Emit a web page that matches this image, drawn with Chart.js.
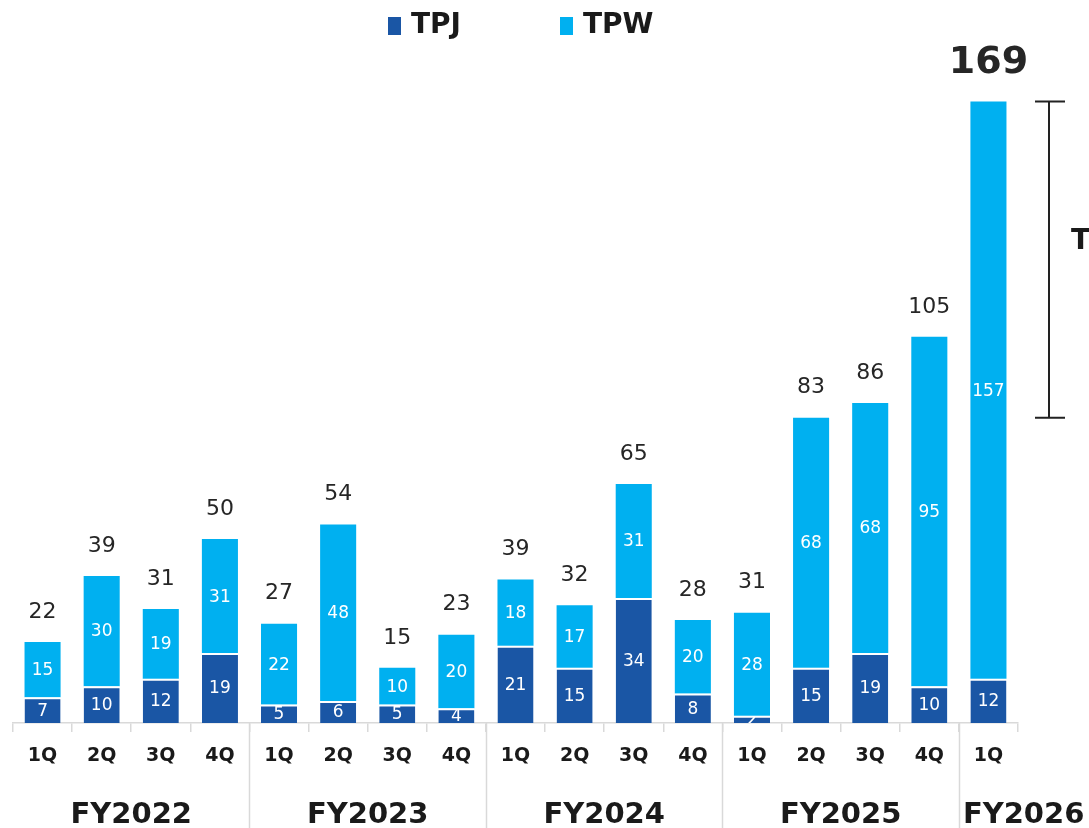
<!DOCTYPE html>
<html>
<head>
<meta charset="utf-8">
<script src="https://cdn.jsdelivr.net/npm/chart.js@4/dist/chart.umd.min.js"></script>
<style>
  html,body{margin:0;padding:0;background:#fff;}
  #wrap{width:1089px;height:828px;position:relative;}
</style>
</head>
<body>
<div id="wrap"><canvas id="c" width="1089" height="828"></canvas></div>
<script>
const quarters = ['1Q','2Q','3Q','4Q','1Q','2Q','3Q','4Q','1Q','2Q','3Q','4Q','1Q','2Q','3Q','4Q','1Q'];
const fiscalYears = ['FY2022','FY2023','FY2024','FY2025','FY2026'];
const fyGroupSizes = [4,4,4,4,1];
const tpj = [7,10,12,19, 5,6,5,4, 21,15,34,8, 2,15,19,10, 12];
const tpw = [15,30,19,31, 22,48,10,20, 18,17,31,20, 28,68,68,95, 157];
const totals = [22,39,31,50, 27,54,15,23, 39,32,65,28, 31,83,86,105, 169];
const bracketFrom = 83;
const bracketTo = 169;

const COL_TPJ = '#1a56a5';
const COL_TPW = '#00b0f0';
const FONT = "'DejaVu Sans', Verdana, sans-serif";

const overlay = {
  id: 'overlay',
  afterDatasetsDraw(chart) {
    const ctx = chart.ctx;
    // inside labels
    chart.data.datasets.forEach((ds, di) => {
      const meta = chart.getDatasetMeta(di);
      meta.data.forEach((el, i) => {
        const v = ds.data[i];
        const top = Math.min(el.y, el.base), bot = Math.max(el.y, el.base);
        const w = el.width;
        ctx.save();
        ctx.beginPath();
        ctx.rect(el.x - w/2, top + 1, w, bot - top - 1);
        ctx.clip();
        ctx.fillStyle = '#ffffff';
        ctx.font = '17px ' + FONT;
        ctx.textAlign = 'center';
        ctx.textBaseline = 'middle';
        ctx.fillText(String(v), el.x, (top + bot) / 2 + 1);
        ctx.restore();
      });
    });
    // totals
    const meta1 = chart.getDatasetMeta(1);
    meta1.data.forEach((el, i) => {
      ctx.save();
      ctx.fillStyle = '#262626';
      ctx.textAlign = 'center';
      ctx.textBaseline = 'middle';
      if (i === totals.length - 1) {
        ctx.font = 'bold 38px ' + FONT;
        ctx.fillText(String(totals[i]), el.x, el.y - 38);
      } else {
        ctx.font = '22px ' + FONT;
        ctx.fillText(String(totals[i]), el.x, el.y - 30);
      }
      ctx.restore();
    });
  },
  afterDraw(chart) {
    const ctx = chart.ctx;
    const x = chart.scales.x, y = chart.scales.y;
    const step = x.getPixelForValue(1) - x.getPixelForValue(0);
    const axisY = chart.chartArea.bottom;
    // group separators and labels
    let idx = 0;
    ctx.save();
    fiscalYears.forEach((fy, g) => {
      const n = fyGroupSizes[g];
      const left = x.getPixelForValue(idx) - step/2;
      const right = x.getPixelForValue(idx + n - 1) + step/2;
      if (g > 0) {
        ctx.strokeStyle = '#d9d9d9';
        ctx.lineWidth = 1.5;
        ctx.beginPath();
        ctx.moveTo(Math.round(left) + 0.5, axisY);
        ctx.lineTo(Math.round(left) + 0.5, 828);
        ctx.stroke();
      }
      ctx.fillStyle = '#1a1a1a';
      ctx.font = 'bold 29px ' + FONT;
      ctx.textBaseline = 'middle';
      const tw = ctx.measureText(fy).width;
      let cx = (left + right) / 2;
      if (cx - tw/2 < left + 4) cx = left + 4 + tw/2;
      ctx.textAlign = 'center';
      ctx.fillText(fy, cx, 815);
      idx += n;
    });
    ctx.restore();

    // legend
    ctx.save();
    const items = [['TPJ', COL_TPJ, 388], ['TPW', COL_TPW, 560]];
    items.forEach(([t, c, lx]) => {
      ctx.fillStyle = c;
      ctx.fillRect(lx, 17, 13, 18);
      ctx.fillStyle = '#1a1a1a';
      ctx.font = 'bold 28px ' + FONT;
      ctx.textAlign = 'left';
      ctx.textBaseline = 'middle';
      ctx.fillText(t, lx + 23, 26);
    });
    ctx.restore();

    // bracket
    ctx.save();
    const yTop = y.getPixelForValue(bracketTo);
    const yBot = y.getPixelForValue(bracketFrom);
    const bx = 1049;
    ctx.strokeStyle = '#222';
    ctx.lineWidth = 2;
    ctx.beginPath();
    ctx.moveTo(bx, yTop); ctx.lineTo(bx, yBot);
    ctx.moveTo(bx - 14, yTop); ctx.lineTo(bx + 16, yTop);
    ctx.moveTo(bx - 14, yBot); ctx.lineTo(bx + 16, yBot);
    ctx.stroke();
    ctx.fillStyle = '#1a1a1a';
    ctx.font = 'bold 28px ' + FONT;
    ctx.textAlign = 'left';
    ctx.textBaseline = 'middle';
    ctx.fillText('T', 1071, 242);
    ctx.restore();
  }
};

new Chart(document.getElementById('c'), {
  type: 'bar',
  data: {
    labels: quarters,
    datasets: [
      { label: 'TPJ', data: tpj, backgroundColor: COL_TPJ, borderColor: '#ffffff',
        borderWidth: {top: 2, left: 0, right: 0, bottom: 0}, borderSkipped: false },
      { label: 'TPW', data: tpw, backgroundColor: COL_TPW, borderColor: '#ffffff',
        borderWidth: 0, borderSkipped: false }
    ]
  },
  options: {
    responsive: false,
    animation: false,
    layout: { padding: { top: 61, left: 13, right: 71, bottom: 0 } },
    plugins: { legend: { display: false }, tooltip: { enabled: false } },
    datasets: { bar: { categoryPercentage: 1, barPercentage: 0.61 } },
    scales: {
      x: {
        stacked: true,
        afterFit(scale) { scale.height = 105; },
        grid: { offset: true, drawOnChartArea: false, drawTicks: true, tickLength: 9, color: '#d9d9d9', lineWidth: 1.5 },
        border: { display: true, color: '#d9d9d9', width: 1.5 },
        ticks: { color: '#1a1a1a', font: { family: FONT, size: 19, weight: 'bold' }, padding: 13, maxRotation: 0, autoSkip: false }
      },
      y: { stacked: true, display: false, min: 0, max: 180 }
    }
  },
  plugins: [overlay]
});
</script>
</body>
</html>
